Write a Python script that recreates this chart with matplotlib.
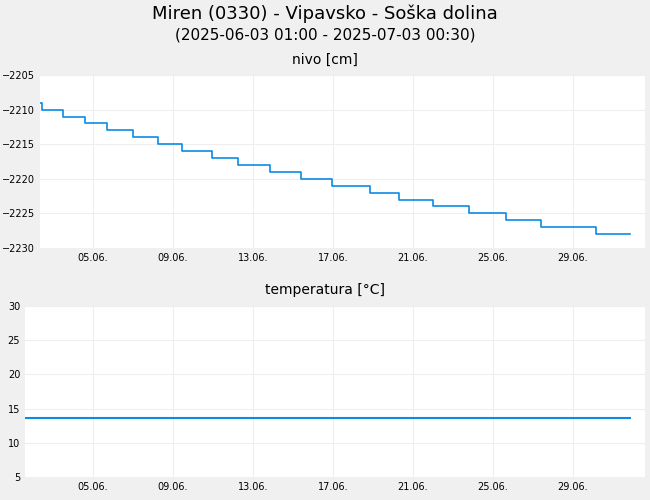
import matplotlib
matplotlib.use("Agg")
import matplotlib.pyplot as plt

# day offsets relative to 05.06. 00:00
step_days = [-2.65, -2.55, -1.5, -0.4, 0.7, 2.0, 3.25, 4.45, 5.95, 7.25, 8.85, 10.4, 11.95, 13.85, 15.3, 17.0, 18.8, 20.65, 22.4, 25.15, 26.85]
step_levels = [-2209, -2210, -2211, -2212, -2213, -2214, -2215, -2216, -2217, -2218, -2219, -2220, -2221, -2222, -2223, -2224, -2225, -2226, -2227, -2228, -2228]
temp_days = [-3.4, 26.85]
temp_vals = [13.6, 13.6]
tick_days = [0, 4, 8, 12, 16, 20, 24]
tick_labels = ["05.06.", "09.06.", "13.06.", "17.06.", "21.06.", "25.06.", "29.06."]

bg = "#f0f0f0"
col = "#0a8be6"
fig = plt.figure(figsize=(6.5, 5), dpi=100, facecolor=bg)
ax1 = fig.add_axes([40/650, 1-248/500, 605/650, 173/500])
ax2 = fig.add_axes([25/650, 1-477/500, 620/650, 171/500])

fig.text(0.5, 1-14/500, "Miren (0330) - Vipavsko - Soška dolina", ha="center", va="center", fontsize=13)
fig.text(0.5, 1-35/500, "(2025-06-03 01:00 - 2025-07-03 00:30)", ha="center", va="center", fontsize=11)
fig.text(0.5, 1-60/500, "nivo [cm]", ha="center", va="center", fontsize=10)
fig.text(0.5, 1-290/500, "temperatura [°C]", ha="center", va="center", fontsize=10)

ax1.plot(step_days, step_levels, drawstyle="steps-post", color=col, lw=1.2)
ax1.set_xlim(-2.65, 27.6)
ax1.set_ylim(-2230, -2205)
ax1.set_yticks(range(-2230, -2204, 5))
ax2.plot(temp_days, temp_vals, color=col, lw=1.5)
ax2.set_xlim(-3.4, 27.6)
ax2.set_ylim(5, 30)
ax2.set_yticks(range(5, 31, 5))
for ax in (ax1, ax2):
    ax.set_facecolor("white")
    ax.set_xticks(tick_days)
    ax.set_xticklabels(tick_labels)
    ax.grid(color="#eeeeee", lw=0.8)
    ax.tick_params(labelsize=7, length=0)
    for s in ax.spines.values():
        s.set_visible(False)
fig.savefig("out.png", facecolor=bg)
